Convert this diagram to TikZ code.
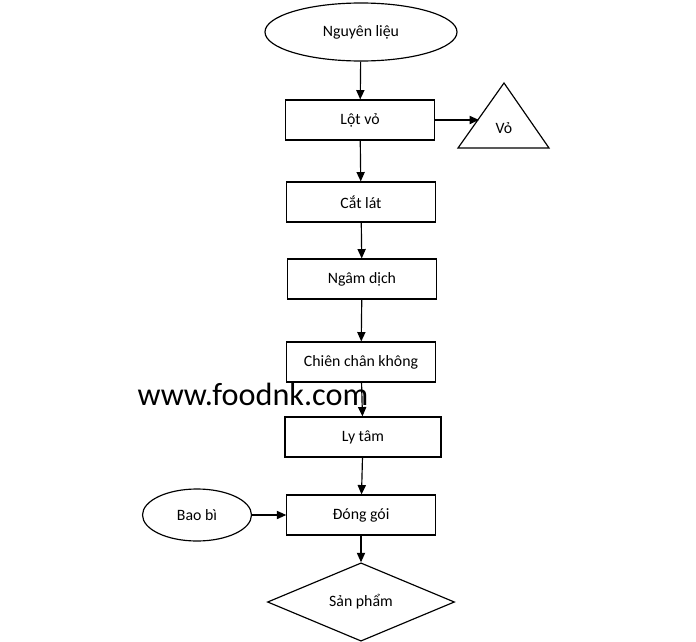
\documentclass[tikz,border=0pt]{standalone}
\usepackage{fontspec}
\setmainfont{Carlito}
\usetikzlibrary{shapes.geometric, arrows.meta}

\begin{document}
\begin{tikzpicture}[
    x=0.03cm, y=-0.03cm,
    line width=1pt,
    every node/.style={font=\fontsize{13.5}{16}\selectfont},
    stepbox/.style={draw, rectangle, minimum width=4.45cm, minimum height=1.2cm},
    oval/.style={draw, ellipse, inner sep=0pt},
    flow/.style={-{Triangle[length=8pt, width=7pt]}}
]
    \useasboundingbox (0,0) rectangle (696,642);

    \node[oval, minimum width=5.76cm, minimum height=1.74cm] (nguyenlieu) at (361,32) {Nguyên liệu};
    \node[stepbox] (lotvo) at (360,120) {Lột vỏ};
    \node[stepbox] (catlat) at (361,202) {Cắt lát};
    \node[stepbox] (ngamdich) at (362,279) {Ngâm dịch};
    \node[stepbox] (chien) at (361,362) {Chiên chân không};
    \node[stepbox, minimum width=4.68cm] (lytam) at (363,437) {Ly tâm};
    \node[stepbox] (donggoi) at (361,515) {Đóng gói};
    \node[draw, diamond, inner sep=0pt, minimum width=5.61cm, minimum height=1.95cm] (sanpham) at (361,602) {Sản phẩm};
    \node[oval, minimum width=3.27cm, minimum height=1.56cm] (baobi) at (197,515) {Bao bì};

    % triangle for the peel
    \draw (504,83) -- (458,148) -- (549,148) -- cycle;
    \node (vo) at (504,128) {Vỏ};
    \coordinate (voin) at (479,120);

    \foreach \a/\b in {nguyenlieu/lotvo, lotvo/catlat, catlat/ngamdich, ngamdich/chien, chien/lytam, lytam/donggoi, donggoi/sanpham} {
        \draw[flow] (\a) -- (\b);
    }
    \draw[flow] (lotvo.east) -- (voin);
    \draw[flow] (baobi) -- (donggoi);

    \node[font=\fontsize{27.5}{32}\selectfont] (watermark) at (253,394) {www.foodnk.com};
\end{tikzpicture}
\end{document}
